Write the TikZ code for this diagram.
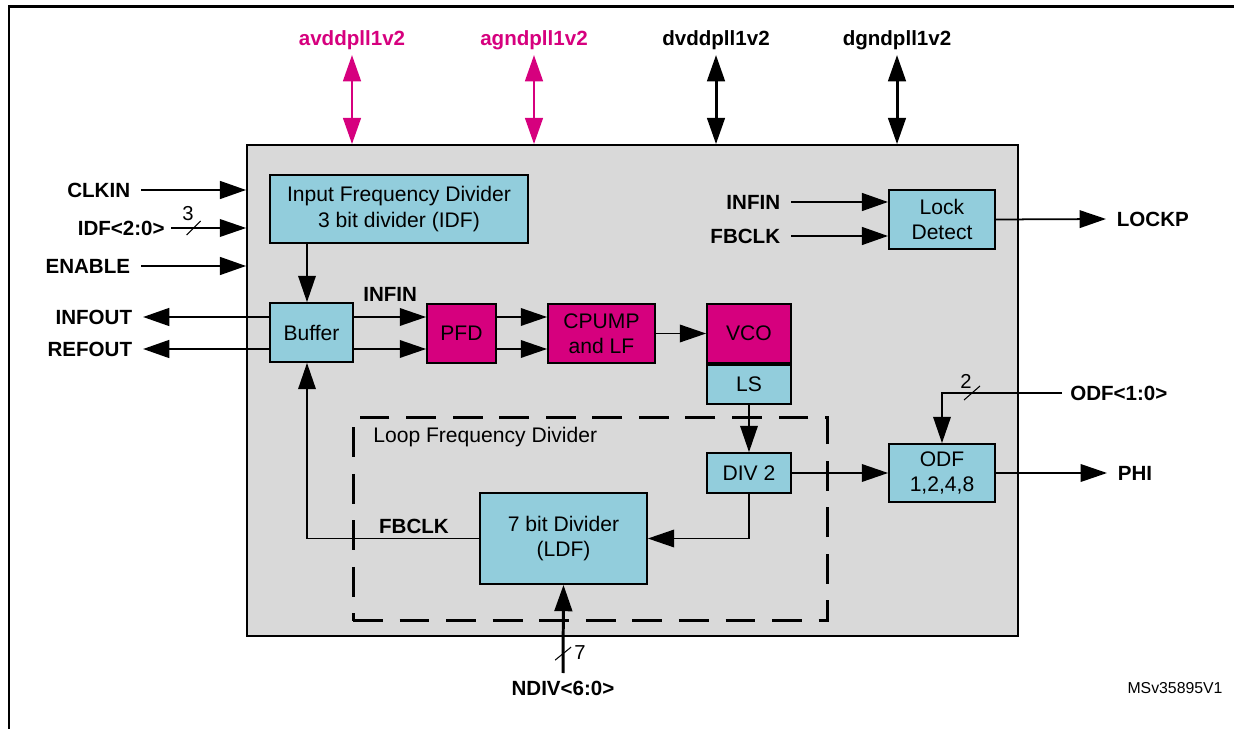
\documentclass[tikz,border=0pt]{standalone}
\usepackage{fontspec}
\setmainfont{Liberation Sans}
\usetikzlibrary{arrows.meta,calc,positioning}
\definecolor{chip}{HTML}{D9D9D9}
\definecolor{cyanbox}{HTML}{92CDDC}
\definecolor{pllpink}{HTML}{D6007E}
\tikzset{
  blk/.style={draw,line width=1pt,fill=cyanbox,inner sep=0pt,align=center,font=\fontsize{12}{14.5}\selectfont},
  hot/.style={blk,fill=pllpink},
  lbl/.style={inner ysep=0pt,inner xsep=6pt,font=\fontsize{11.7}{14}\selectfont\bfseries},
  buswd/.style={inner sep=0pt,font=\fontsize{11.5}{12}\selectfont},
  sig/.style={line width=1.7pt,->},
  wire/.style={line width=1pt,->},
  slash/.style={line width=0.6pt}
}
\begin{document}
\begin{tikzpicture}[x=0.02cm,y=-0.02cm,>={Triangle[length=15pt,width=10pt]}]
        \useasboundingbox (0,0) rectangle (1234,729);
        \draw[line width=1.2pt] (9,729) -- (9,6.5) -- (1234,6.5);
        \node[draw,line width=1pt,fill=chip,minimum width=15.42cm,minimum height=9.82cm] (pll) at (632.5,390.5) {};
        \node[draw,line width=1.7pt,dash pattern=on 17pt off 9.5pt,minimum width=9.5cm,minimum height=4.08cm] (loop) at (590.5,519) {};
        \node[anchor=west,inner sep=0pt,font=\fontsize{12}{14}\selectfont] (looplbl) at (373,437) {Loop Frequency Divider};
        % blocks
        \node[blk,minimum width=5.16cm,minimum height=1.36cm] (idf) at (399,209) {Input Frequency Divider\\3 bit divider (IDF)};
        \node[blk,minimum width=1.66cm,minimum height=1.18cm] (buf) at (311.5,332.5) {Buffer};
        \node[hot,minimum width=1.38cm,minimum height=1.18cm] (pfd) at (461.5,333.5) {PFD};
        \node[hot,minimum width=2.14cm,minimum height=1.18cm] (cpump) at (601.5,333.5) {CPUMP\\and LF};
        \node[hot,minimum width=1.68cm,minimum height=1.18cm] (vco) at (749,333.5) {VCO};
        \node[blk,minimum width=1.68cm,minimum height=0.78cm,below=0pt of vco] (ls) {LS};
        \node[blk,minimum width=1.68cm,minimum height=0.8cm] (div2) at (749,473) {DIV 2};
        \node[blk,minimum width=3.34cm,minimum height=1.82cm] (ldf) at (563.5,538.5) {7 bit Divider\\(LDF)};
        \node[blk,minimum width=2.12cm,minimum height=1.16cm] (odf) at (942,473) {ODF\\1,2,4,8};
        \node[blk,minimum width=2.12cm,minimum height=1.18cm] (lock) at (942,219.5) {Lock\\Detect};
        % pins
        \node[lbl,anchor=east] (clkin) at (141,190) {CLKIN};
        \node[lbl,anchor=east,inner xsep=3.4pt] (idfsel) at (171,228) {IDF<2:0>};
        \node[lbl,anchor=east] (enable) at (141,266) {ENABLE};
        \node[lbl,anchor=east] (infout) at (143,317) {INFOUT};
        \node[lbl,anchor=east] (refout) at (143,349) {REFOUT};
        \node[lbl,anchor=east] (ldinfin) at (791,202) {INFIN};
        \node[lbl,anchor=east] (ldfbclk) at (791,236) {FBCLK};
        \node[lbl,anchor=west] (lockp) at (1106,219) {LOCKP};
        \node[lbl,anchor=west,inner xsep=4.5pt] (odfsel) at (1062,393) {ODF<1:0>};
        \node[lbl,anchor=west] (phi) at (1107,473) {PHI};
        \node[lbl,anchor=north,inner ysep=4.5pt] (ndiv) at (563,673) {NDIV<6:0>};
        \node[lbl,anchor=west,inner sep=0pt] (infin) at (363,294) {INFIN};
        \node[lbl,inner sep=0pt] (fbclk) at (414,526) {FBCLK};
        \node[inner sep=0pt,font=\fontsize{9}{10}\selectfont] (docref) at (1175,688) {MSv35895V1};
        \foreach \x/\t/\col/\n in {352/avddpll1v2/pllpink/avdd,534/agndpll1v2/pllpink/agnd,716/dvddpll1v2/black/dvdd,897/dgndpll1v2/black/dgnd}{
          \node[lbl,inner sep=0pt,text=\col] (\n) at (\x,40) {\t};
          \coordinate (\n pin) at (\x,55);
          \draw[line width=1.7pt,\col,<->] (\n pin) -- (\n pin |- pll.north);
        }
        % signals
        \coordinate (fbcol) at (307,0);
        \draw[sig] (clkin.east) -- (clkin.east -| pll.west);
        \draw[wire] (idfsel.east) -- coordinate[pos=0.3] (idfbus) (idfsel.east -| pll.west);
        \draw[sig] (enable.east) -- (enable.east -| pll.west);
        \draw[sig] (buf.west |- infout.east) -- (infout.east);
        \draw[sig] (buf.west |- refout.east) -- (refout.east);
        \draw[wire] (idf.south -| fbcol) -- (buf.north -| fbcol);
        \draw[wire] (buf.east |- infout.east) -- (pfd.west |- infout.east);
        \draw[wire] (buf.east |- refout.east) -- (pfd.west |- refout.east);
        \draw[wire] (pfd.east |- infout.east) -- (cpump.west |- infout.east);
        \draw[wire] (pfd.east |- refout.east) -- (cpump.west |- refout.east);
        \draw[wire] (cpump) -- (vco);
        \draw[wire] (ls) -- (div2);
        \draw[wire] (div2.south) |- (ldf.east);
        \draw[wire] (ldf.west) -- (ldf.west -| fbcol) -- (buf.south -| fbcol);
        \draw[wire] (div2) -- (odf);
        \draw[wire] (odf.east) -- (phi.west);
        \draw[sig] (ldinfin.east) -- (ldinfin.east -| lock.west);
        \draw[sig] (ldfbclk.east) -- (ldfbclk.east -| lock.west);
        \draw[wire] (lock.east) -- (lockp.west);
        \draw[wire] (odfsel.west) -| coordinate[pos=0.375] (odfbus) (odf.north);
        \draw[sig] (ndiv.north) -- coordinate[pos=0.22] (ndivbus) (ldf.south);
        % bus widths
        \draw[slash] (idfbus) +(-7,7) -- +(7,-7);
        \draw[slash] (odfbus) +(-8,7) -- +(8,-7);
        \draw[slash] (ndivbus) +(-8,6.5) -- +(8,-6.5);
        \node[buswd] (idfw) at (188,214) {3};
        \node[buswd] (odfw) at (966,381) {2};
        \node[buswd] (ndivw) at (580,653) {7};
      \end{tikzpicture}
\end{document}
